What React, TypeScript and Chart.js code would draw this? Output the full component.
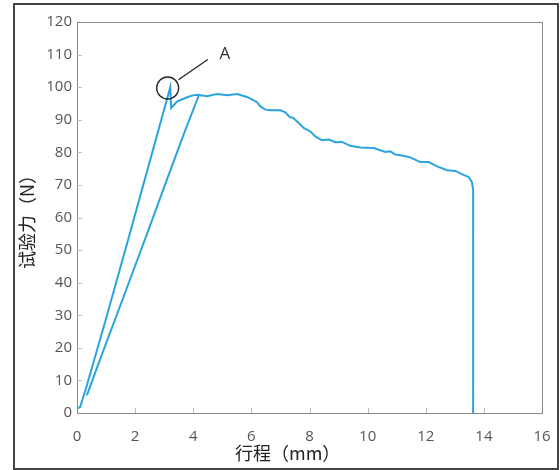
import React, { useEffect, useRef } from "react";
import { Chart, registerables } from "chart.js";

Chart.register(...registerables);

// Main curve: stroke (mm) vs test force (N)
const strokeMain = [
  0, 0.11, 0.17, 0.29, 0.92, 1.8, 2.64, 3.21, 3.24, 3.44, 3.79, 3.96, 4.13,
  4.47, 4.82, 5.16, 5.51, 5.85, 6.19, 6.31, 6.48, 6.65, 7.0, 7.17, 7.32, 7.43,
  7.63, 7.8, 8.03, 8.2, 8.43, 8.66, 8.89, 9.12, 9.4, 9.75, 10.21, 10.38, 10.61,
  10.78, 10.95, 11.18, 11.41, 11.58, 11.81, 12.1, 12.39, 12.73, 13.02, 13.3,
  13.48, 13.59, 13.63, 13.63,
];
const forceMain = [
  1.4, 1.8, 3.6, 7.0, 26.5, 54.5, 81.6, 100, 93.6, 95.6, 96.9, 97.4, 97.7,
  97.2, 97.9, 97.5, 97.9, 97.0, 95.4, 94.1, 93.1, 92.9, 92.9, 92.3, 90.8, 90.6,
  89.0, 87.5, 86.4, 84.9, 83.7, 83.9, 83.1, 83.2, 82.0, 81.5, 81.3, 80.8, 80.1,
  80.3, 79.3, 79.0, 78.6, 78.0, 77.0, 77.0, 75.7, 74.5, 74.3, 73.1, 72.4, 70.8,
  68.5, 0,
];
// Second loading line
const strokeSecond = [0.34, 0.8, 1.6, 2.41, 3.1, 3.7, 4.21];
const forceSecond = [5.4, 16.6, 35.6, 55.0, 71.8, 86.2, 97.9];

const xTicks = [0, 2, 4, 6, 8, 10, 12, 14, 16];
const yTicks = [0, 10, 20, 30, 40, 50, 60, 70, 80, 90, 100, 110, 120];

// Annotation "A" (data coordinates)
const markA = { x: 3.12, y: 99.75 };
const leaderFrom = { x: 3.49, y: 102.3 };
const leaderTo = { x: 4.5, y: 108.5 };
const labelA = { x: 5.09, y: 110, text: "A" };

const xTitle = "行程（mm）";
const yTitle = "试验力（N）";

const LINE = "#2ba4de";

export default function App() {
  const ref = useRef<HTMLCanvasElement | null>(null);
  useEffect(() => {
    if (!ref.current) return;
    const decor = {
      id: "decor",
      beforeDraw(chart: any) {
        const ctx = chart.ctx;
        ctx.save();
        ctx.fillStyle = "#fff";
        ctx.fillRect(0, 0, chart.width, chart.height);
        ctx.restore();
      },
      afterDraw(chart: any) {
        const ctx = chart.ctx;
        const a = chart.chartArea;
        const xs = chart.scales.x;
        const ys = chart.scales.y;
        ctx.save();
        // outer frame
        ctx.strokeStyle = "#444";
        ctx.lineWidth = 2;
        ctx.strokeRect(14, 4, chart.width - 16, chart.height - 5);
        // plot border
        ctx.strokeStyle = "#8a8a8a";
        ctx.lineWidth = 1;
        ctx.strokeRect(Math.round(a.left) + 0.5, Math.round(a.top) + 0.5, Math.round(a.right - a.left), Math.round(a.bottom - a.top));
        // inward tick marks
        ctx.strokeStyle = "#bdbdbd";
        ctx.beginPath();
        yTicks.forEach((v) => {
          if (v === 0 || v === 120) return;
          const py = Math.round(ys.getPixelForValue(v)) + 0.5;
          ctx.moveTo(a.left, py);
          ctx.lineTo(a.left + 5, py);
        });
        xTicks.forEach((v) => {
          if (v === 0 || v === 16) return;
          const px = Math.round(xs.getPixelForValue(v)) + 0.5;
          ctx.moveTo(px, a.bottom);
          ctx.lineTo(px, a.bottom - 5);
        });
        ctx.stroke();
        // annotation
        ctx.strokeStyle = "#222";
        ctx.lineWidth = 1.3;
        ctx.beginPath();
        ctx.arc(xs.getPixelForValue(markA.x), ys.getPixelForValue(markA.y), 11, 0, Math.PI * 2);
        ctx.stroke();
        ctx.beginPath();
        ctx.moveTo(xs.getPixelForValue(leaderFrom.x), ys.getPixelForValue(leaderFrom.y));
        ctx.lineTo(xs.getPixelForValue(leaderTo.x), ys.getPixelForValue(leaderTo.y));
        ctx.stroke();
        ctx.fillStyle = "#333";
        ctx.font = "17px 'Open Sans', sans-serif";
        ctx.textAlign = "center";
        ctx.textBaseline = "middle";
        ctx.fillText(labelA.text, xs.getPixelForValue(labelA.x), ys.getPixelForValue(labelA.y));
        // axis titles
        ctx.fillStyle = "#222";
        ctx.font = "18px 'Noto Sans CJK SC', sans-serif";
        ctx.fillText(xTitle, a.left + (a.right - a.left) * 0.453, 453);
        ctx.translate(27, (a.top + a.bottom) / 2);
        ctx.rotate(-Math.PI / 2);
        ctx.fillText(yTitle, 0, 0);
        ctx.restore();
      },
    };
    const chart = new Chart(ref.current, {
      type: "scatter",
      data: {
        datasets: [
          {
            data: strokeMain.map((x, i) => ({ x, y: forceMain[i] })),
            showLine: true,
            borderColor: LINE,
            borderWidth: 2,
            pointRadius: 0,
            tension: 0,
          },
          {
            data: strokeSecond.map((x, i) => ({ x, y: forceSecond[i] })),
            showLine: true,
            borderColor: LINE,
            borderWidth: 2,
            pointRadius: 0,
            tension: 0,
          },
        ],
      },
      options: {
        responsive: false,
        animation: false,
        layout: { padding: { left: 0, top: 22, right: 18, bottom: 0 } },
        plugins: { legend: { display: false }, tooltip: { enabled: false } },
        scales: {
          x: {
            type: "linear",
            min: 0,
            max: 16,
            afterBuildTicks: (s: any) => {
              s.ticks = xTicks.map((v) => ({ value: v }));
            },
            afterFit: (s: any) => {
              s.height = 57;
              s.paddingLeft = 0;
              s.paddingRight = 0;
            },
            grid: { display: false, drawTicks: false },
            border: { display: false },
            ticks: {
              padding: 15,
              color: "#555",
              font: { family: "'Open Sans', sans-serif", size: 15 },
            },
          },
          y: {
            type: "linear",
            min: 0,
            max: 120,
            afterBuildTicks: (s: any) => {
              s.ticks = yTicks.map((v) => ({ value: v }));
            },
            afterFit: (s: any) => {
              s.width = 77;
              s.paddingTop = 0;
              s.paddingBottom = 0;
            },
            grid: { display: false, drawTicks: false },
            border: { display: false },
            ticks: {
              padding: 5,
              color: "#555",
              font: { family: "'Open Sans', sans-serif", size: 15 },
            },
          },
        },
      },
      plugins: [decor],
    });
    return () => chart.destroy();
  }, []);
  return (
    <div style={{ position: "fixed", left: 0, top: 0, width: 560, height: 470 }}>
      <canvas ref={ref} width={560} height={470} style={{ display: "block" }} />
    </div>
  );
}
